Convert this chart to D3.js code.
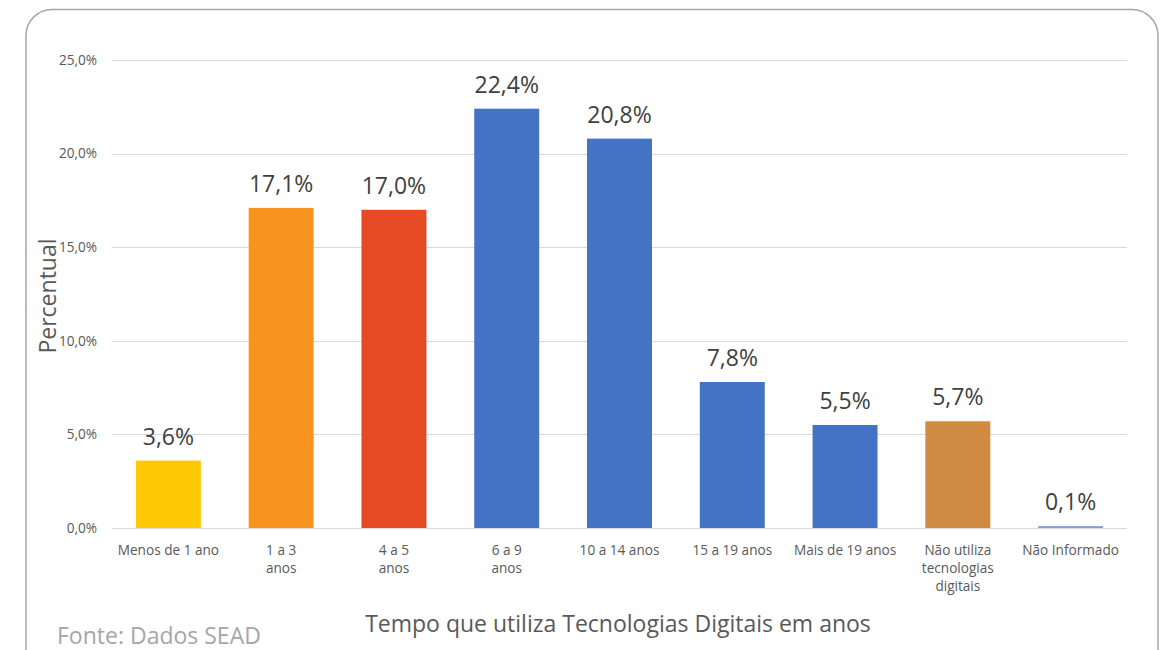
<html lang="pt">
<head>
<meta charset="utf-8">
<title>Tempo que utiliza Tecnologias Digitais</title>
<style>
    body { margin: 0; background: white; font-family: "Open Sans", "Noto Sans", sans-serif; }
    .grid line { stroke: #d9d9d9; stroke-width: 1.3; shape-rendering: crispEdges; }
    .axis text { fill: #595959; font-size: 13.6px; }
    .val { fill: #404040; font-size: 23px; text-anchor: middle; }
</style>
</head>
<body>
<script src="https://cdnjs.cloudflare.com/ajax/libs/d3/7.8.5/d3.min.js"></script>
<script>
    // data
    var categories = ["Menos de 1 ano", "1 a 3 anos", "4 a 5 anos", "6 a 9 anos", "10 a 14 anos",
                      "15 a 19 anos", "Mais de 19 anos", "Não utiliza tecnologias digitais", "Não Informado"];
    var tickLines = [["Menos de 1 ano"], ["1 a 3", "anos"], ["4 a 5", "anos"], ["6 a 9", "anos"], ["10 a 14 anos"],
                     ["15 a 19 anos"], ["Mais de 19 anos"], ["Não utiliza", "tecnologias", "digitais"], ["Não Informado"]];
    var values = [3.6, 17.1, 17.0, 22.4, 20.8, 7.8, 5.5, 5.7, 0.1];
    var colors = ["#FFC907", "#F7941D", "#E64A24", "#4472C4", "#4472C4", "#4472C4", "#4472C4", "#CF8B41", "#7F9FD8"];
    var yTicks = [0, 5, 10, 15, 20, 25];

    var W = 1160, H = 650;
    var plotLeft = 112, plotRight = 1127, plotTop = 60, plotBottom = 528;

    var svg = d3.select("body").append("svg")
        .attr("width", W)
        .attr("height", H);

    // frame
    svg.append("rect")
        .attr("x", 26).attr("y", 9.5)
        .attr("width", 1132).attr("height", 680)
        .attr("rx", 26).attr("ry", 26)
        .attr("fill", "white")
        .attr("stroke", "#a6a6a6")
        .attr("stroke-width", 1.5);

    var x = d3.scaleBand()
        .domain(categories)
        .range([plotLeft, plotRight])
        .paddingInner(0.424)
        .paddingOuter(0.212);

    var y = d3.scaleLinear()
        .domain([0, 25])
        .range([plotBottom, plotTop]);

    var fmt = function(v) { return d3.format(".1f")(v).replace(".", ",") + "%"; };

    // gridlines
    svg.append("g")
        .attr("class", "grid")
        .selectAll("line")
        .data(yTicks)
        .enter()
        .append("line")
        .attr("x1", plotLeft)
        .attr("x2", plotRight)
        .attr("y1", function(d) { return Math.round(y(d)) + 0.5; })
        .attr("y2", function(d) { return Math.round(y(d)) + 0.5; });

    // y axis labels
    var yAxis = d3.axisLeft(y)
        .tickValues(yTicks)
        .tickSize(0)
        .tickPadding(15)
        .tickFormat(fmt);

    svg.append("g")
        .attr("class", "axis")
        .attr("transform", "translate(" + plotLeft + ",0)")
        .call(yAxis)
        .attr("font-family", null)
        .attr("font-size", null)
        .call(function(g) { g.select(".domain").remove(); });

    // bars
    svg.selectAll(".bar")
        .data(values)
        .enter()
        .append("rect")
        .attr("class", "bar")
        .attr("x", function(d, i) { return x(categories[i]); })
        .attr("width", x.bandwidth())
        .attr("y", function(d) { return y(d); })
        .attr("height", function(d) { return Math.max(y(0) - y(d), 1.5); })
        .attr("fill", function(d, i) { return colors[i]; });

    // value labels
    svg.selectAll(".val")
        .data(values)
        .enter()
        .append("text")
        .attr("class", "val")
        .attr("x", function(d, i) { return x(categories[i]) + x.bandwidth() / 2; })
        .attr("y", function(d) { return y(d) - 16; })
        .text(fmt);

    // x axis with wrapped labels
    var xAxis = d3.axisBottom(x).tickSize(0).tickPadding(0).tickFormat("");
    var xg = svg.append("g")
        .attr("class", "axis")
        .attr("transform", "translate(0," + plotBottom + ")")
        .call(xAxis)
        .attr("font-family", null)
        .attr("font-size", null);
    xg.select(".domain").remove();
    xg.selectAll(".tick").each(function(d, i) {
        var t = d3.select(this).select("text")
            .attr("y", 0).attr("dy", null);
        tickLines[i].forEach(function(line, j) {
            t.append("tspan")
                .attr("x", 0)
                .attr("y", 27 + j * 18)
                .text(line);
        });
    });

    // x axis title
    svg.append("text")
        .attr("x", 618)
        .attr("y", 632)
        .attr("text-anchor", "middle")
        .attr("fill", "#595959")
        .attr("font-size", "23px")
        .text("Tempo que utiliza Tecnologias Digitais em anos");

    // y axis title
    svg.append("text")
        .attr("transform", "translate(56,296) rotate(-90)")
        .attr("text-anchor", "middle")
        .attr("fill", "#595959")
        .attr("font-size", "23px")
        .text("Percentual");

    // source
    svg.append("text")
        .attr("x", 57)
        .attr("y", 644)
        .attr("fill", "#a6a6a6")
        .attr("font-size", "23px")
        .text("Fonte: Dados SEAD");
</script>
</body>
</html>
